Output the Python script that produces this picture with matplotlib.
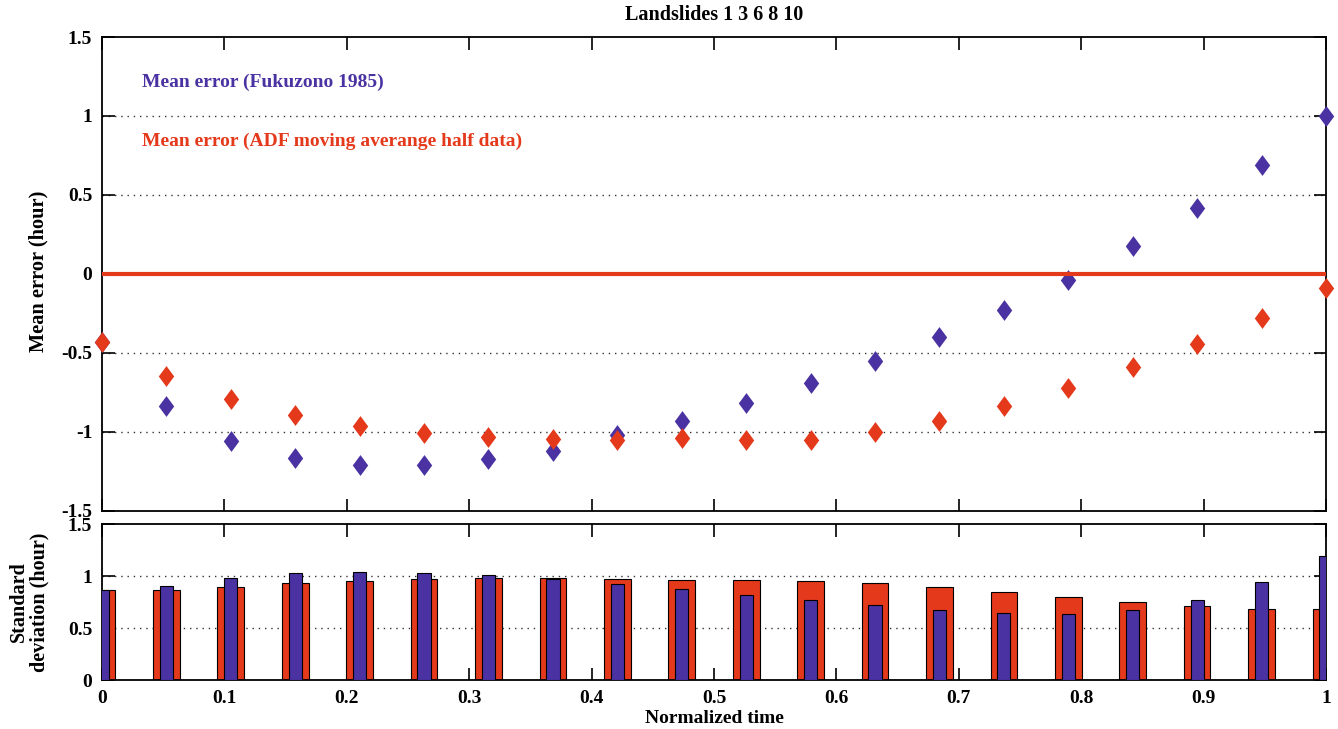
import numpy as np
import matplotlib
matplotlib.use("Agg")
import matplotlib.pyplot as plt
from matplotlib.path import Path

# ---- data ----
norm_time = [i / 19 for i in range(20)]
mean_fukuzono = [-0.43, -0.84, -1.058, -1.168, -1.212, -1.212, -1.175, -1.12, -1.02, -0.932,
                 -0.819, -0.694, -0.553, -0.397, -0.226, -0.038, 0.177, 0.416, 0.688, 1.0]
mean_adf = [-0.432, -0.644, -0.792, -0.895, -0.964, -1.008, -1.032, -1.048, -1.055, -1.042,
            -1.055, -1.051, -1.004, -0.932, -0.835, -0.726, -0.593, -0.443, -0.278, -0.091]
std_fukuzono = [0.863, 0.90, 0.984, 1.025, 1.041, 1.029, 1.006, 0.971, 0.924, 0.876,
                0.818, 0.771, 0.717, 0.675, 0.643, 0.634, 0.675, 0.771, 0.939, 1.188]
std_adf = [0.863, 0.866, 0.898, 0.930, 0.955, 0.971, 0.978, 0.984, 0.975, 0.965,
           0.965, 0.952, 0.930, 0.892, 0.850, 0.800, 0.752, 0.710, 0.682, 0.682]
x_ticks = [0, 0.1, 0.2, 0.3, 0.4, 0.5, 0.6, 0.7, 0.8, 0.9, 1]
x_tick_labels = ["0", "0.1", "0.2", "0.3", "0.4", "0.5", "0.6", "0.7", "0.8", "0.9", "1"]
top_yticks = [-1.5, -1, -0.5, 0, 0.5, 1, 1.5]
top_ytick_labels = ["-1.5", "-1", "-0.5", "0", "0.5", "1", "1.5"]
bot_yticks = [0, 0.5, 1, 1.5]
bot_ytick_labels = ["0", "0.5", "1", "1.5"]

RED = "#e4391b"
BLUE = "#4a32a3"
FONT = ["Liberation Serif", "DejaVu Serif"]
plt.rcParams["font.family"] = FONT
plt.rcParams["font.weight"] = "bold"

diamond = Path([(0, 1), (0.74, 0), (0, -1), (-0.74, 0), (0, 1)],
               [Path.MOVETO, Path.LINETO, Path.LINETO, Path.LINETO, Path.CLOSEPOLY])

fig = plt.figure(figsize=(13.38, 7.29), dpi=100)
ax1 = fig.add_axes([0.0762, 0.2995, 0.9148, 0.6497])
ax2 = fig.add_axes([0.0762, 0.0672, 0.9148, 0.2140])

grid_kw = dict(color="#333333", linestyle=(0, (1, 3.5)), linewidth=1.0)

# top panel
for yv in [-1, -0.5, 0.5, 1]:
    ax1.axhline(yv, zorder=0, **grid_kw)
ax1.plot(norm_time, mean_fukuzono, linestyle="none", marker=diamond, markersize=15,
         color=BLUE, markeredgewidth=0, zorder=3, clip_on=False)
ax1.plot(norm_time, mean_adf, linestyle="none", marker=diamond, markersize=15,
         color=RED, markeredgewidth=0, zorder=4, clip_on=False)
ax1.axhline(0, color=RED, linewidth=3, zorder=5)
ax1.set_xlim(0, 1)
ax1.set_ylim(-1.5, 1.5)
ax1.set_xticks(x_ticks)
ax1.set_xticklabels([])
ax1.set_yticks(top_yticks)
ax1.set_yticklabels(top_ytick_labels)
ax1.set_ylabel("Mean error (hour)", fontsize=14.7, fontweight="bold")
ax1.yaxis.set_label_coords(-0.044, 0.505)
ax1.set_title("Landslides 1 3 6 8 10", fontsize=14.5, fontweight="bold", pad=12)
ax1.text(0.033, 1.215, "Mean error (Fukuzono 1985)", color=BLUE, fontsize=14,
         fontweight="bold", va="center", ha="left")
ax1.text(0.033, 0.84, "Mean error (ADF moving averange half data)", color=RED, fontsize=14,
         fontweight="bold", va="center", ha="left")

# bottom panel
for yv in [0.5, 1]:
    ax2.axhline(yv, zorder=0, **grid_kw)
ax2.bar(norm_time, std_adf, width=0.0218, color=RED, edgecolor="black", linewidth=0.8, zorder=2)
ax2.bar(norm_time, std_fukuzono, width=0.0108, color=BLUE, edgecolor="black", linewidth=0.8, zorder=3)
ax2.set_xlim(0, 1)
ax2.set_ylim(0, 1.5)
ax2.set_xticks(x_ticks)
ax2.set_xticklabels(x_tick_labels)
ax2.set_yticks(bot_yticks)
ax2.set_yticklabels(bot_ytick_labels)
ax2.set_ylabel("Standard\ndeviation (hour)", fontsize=14.5, fontweight="bold", linespacing=1.0)
ax2.yaxis.set_label_coords(-0.043, 0.5)
ax2.set_xlabel("Normalized time", fontsize=14, fontweight="bold", labelpad=2)

for ax in (ax1, ax2):
    ax.tick_params(direction="in", length=9, width=1.2, top=True, right=True,
                   labelsize=14, pad=7)
    for lab in ax.get_xticklabels() + ax.get_yticklabels():
        lab.set_fontweight("bold")
    for sp in ax.spines.values():
        sp.set_linewidth(1.3)

fig.savefig("out.png", dpi=100)
